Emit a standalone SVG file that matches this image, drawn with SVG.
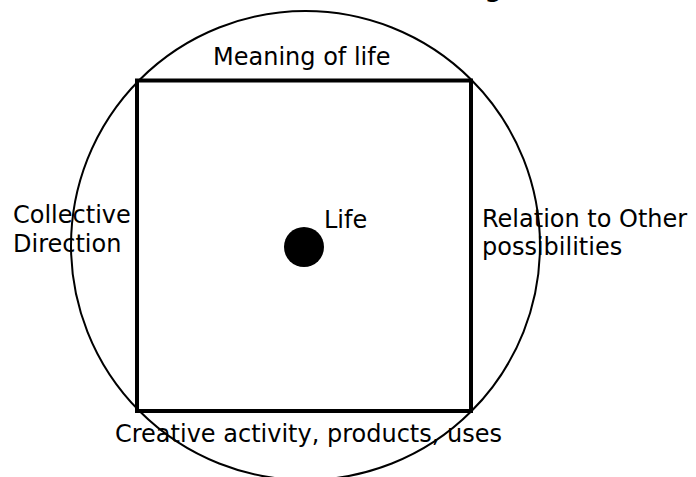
<svg xmlns="http://www.w3.org/2000/svg" width="696" height="477" viewBox="0 0 696 477">
<style>
.t{font-family:"DejaVu Sans","Verdana",sans-serif;font-size:24px;fill:#000}
.b{font-weight:bold}
</style>
<rect width="696" height="477" fill="#fff"/>
<g id="title"><text class="t b" x="502" y="-3" text-anchor="end" font-size="28">g</text></g>
<g id="circle"><circle cx="305.5" cy="245.5" r="234.5" fill="none" stroke="#000" stroke-width="2"/></g>
<g id="square"><rect x="137" y="80.5" width="334" height="330.5" fill="none" stroke="#000" stroke-width="4"/></g>
<g id="life"><circle cx="304" cy="247" r="20" fill="#000"/><text class="t" x="324" y="228">Life</text></g>
<g id="meaning"><text class="t" x="213" y="65">Meaning of life</text></g>
<g id="collective"><text class="t" x="13" y="223">Collective</text><text class="t" x="13" y="252">Direction</text></g>
<g id="relation"><text class="t" x="482" y="227">Relation to Other</text><text class="t" x="482" y="255">possibilities</text></g>
<g id="creative"><text class="t" x="115" y="442">Creative activity, products, uses</text></g>
<g id="connectors"></g>
</svg>
